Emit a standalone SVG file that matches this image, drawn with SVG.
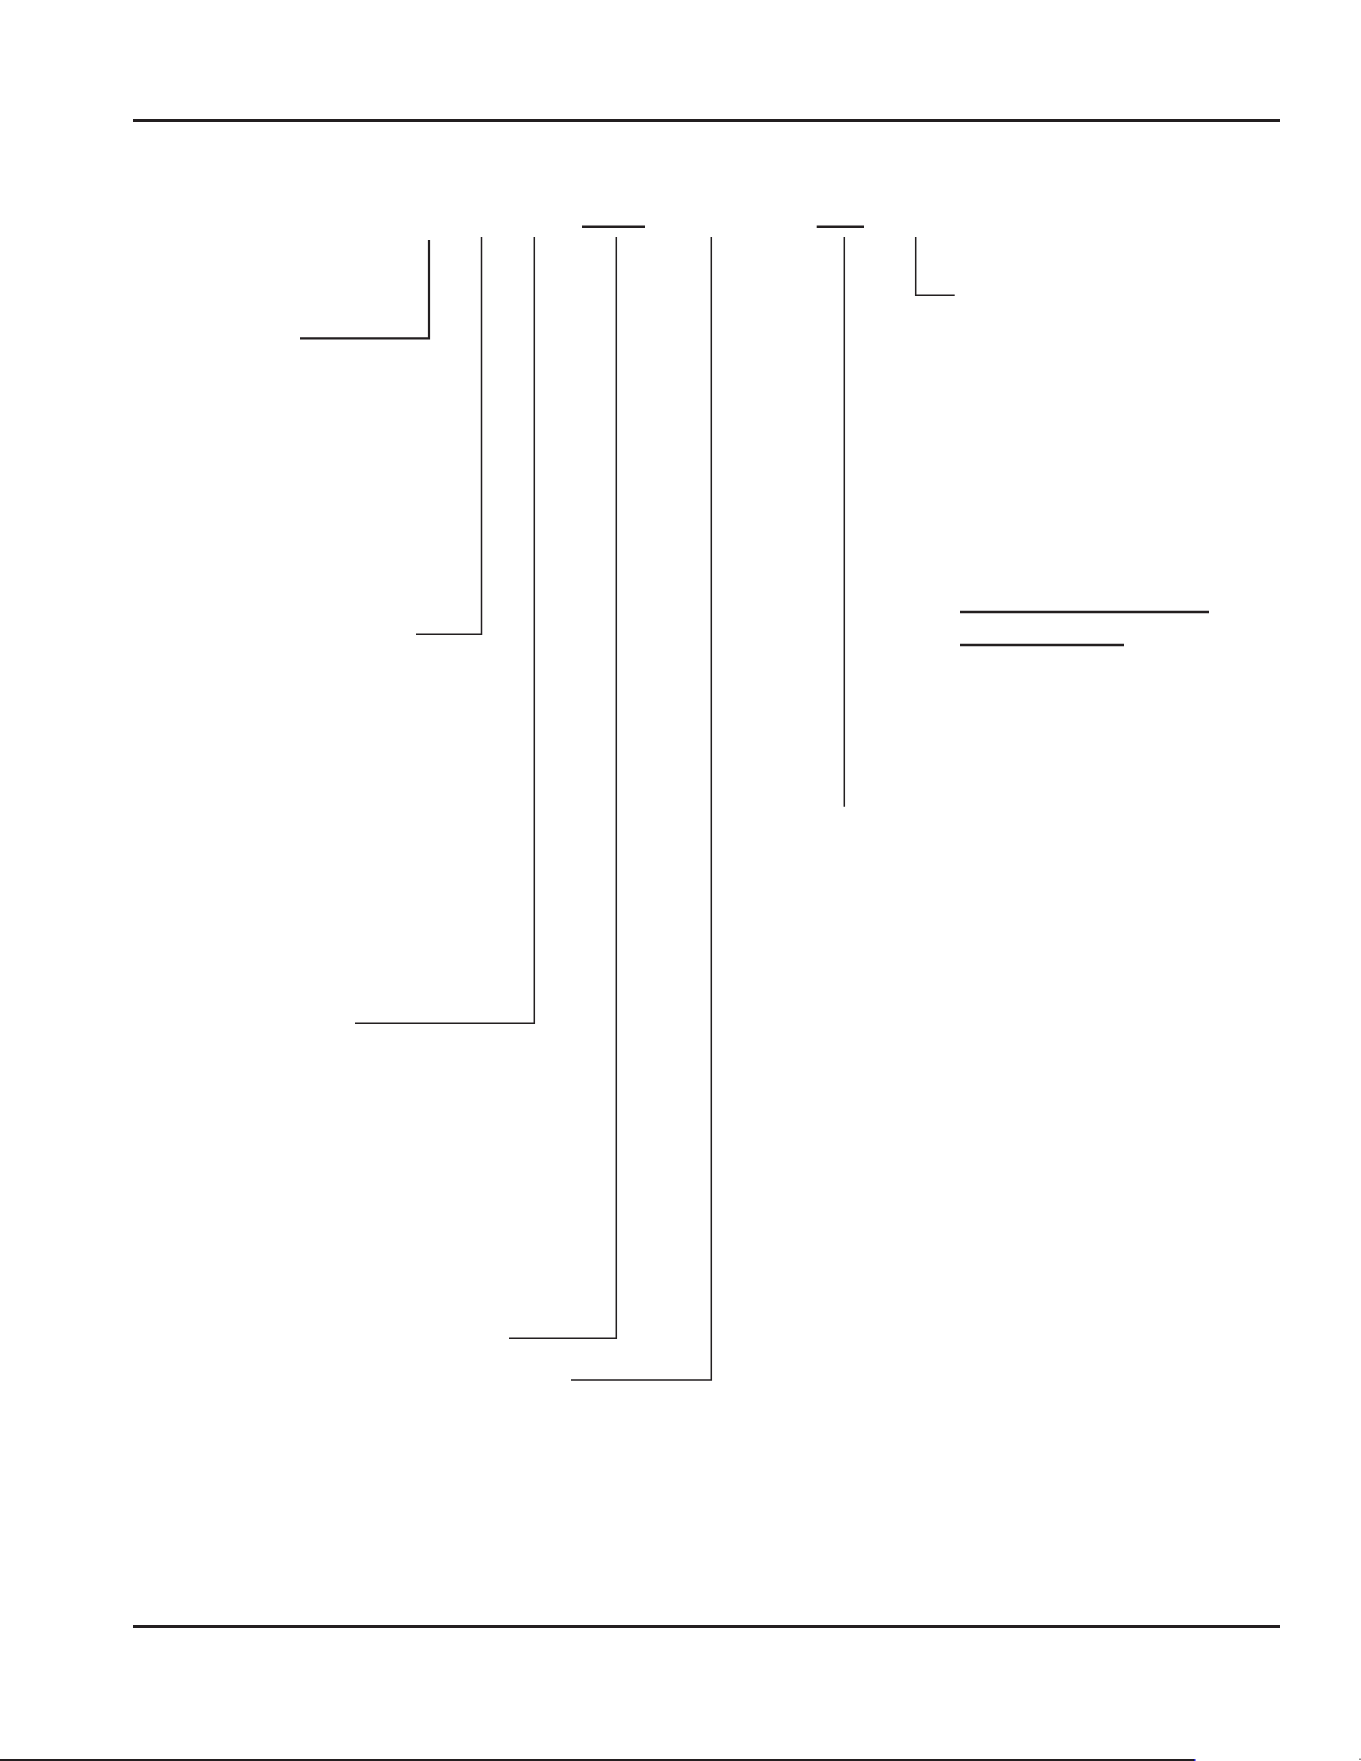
<svg xmlns="http://www.w3.org/2000/svg" width="1361" height="1761" viewBox="0 0 1361 1761">
<style>
.rule{stroke:#231f20;stroke-width:3;fill:none}
.bar{stroke:#231f20;stroke-width:2.5;fill:none}
.ld{stroke:#231f20;stroke-width:1.5;fill:none}
.ldb{stroke:#231f20;stroke-width:2.2;fill:none}
</style>
<rect width="1361" height="1761" fill="#ffffff"/>
<g id="frame">
<line class="rule" x1="133" y1="120.5" x2="1280" y2="120.5"/>
<line class="rule" x1="133" y1="1626.5" x2="1280" y2="1626.5"/>
<rect x="0" y="1759" width="1194" height="2" fill="#231f20"/>
<rect x="1194" y="1759" width="1.5" height="2" fill="#2020e0"/>
<rect x="1359.5" y="1758.5" width="1" height="1.5" fill="#231f20"/>
</g>
<g id="bars">
<line class="bar" x1="582" y1="226.7" x2="645" y2="226.7"/>
<line class="bar" x1="816.7" y1="226.7" x2="864" y2="226.7"/>
<line class="bar" x1="960" y1="612" x2="1209" y2="612"/>
<line class="bar" x1="960" y1="645" x2="1124" y2="645"/>
</g>
<g id="connectors">
<polyline class="ldb" points="429,240 429,338.3 300,338.3"/>
<polyline class="ld" points="481.5,237 481.5,634.3 416,634.3"/>
<polyline class="ld" points="534.3,237 534.3,1023.3 355,1023.3"/>
<polyline class="ld" points="616.3,237 616.3,1338.3 509,1338.3"/>
<polyline class="ld" points="711.3,237 711.3,1380 571,1380"/>
<line class="ld" x1="844.3" y1="237" x2="844.3" y2="806.7"/>
<polyline class="ld" points="915.7,237 915.7,295.3 954.7,295.3"/>
</g>
</svg>
